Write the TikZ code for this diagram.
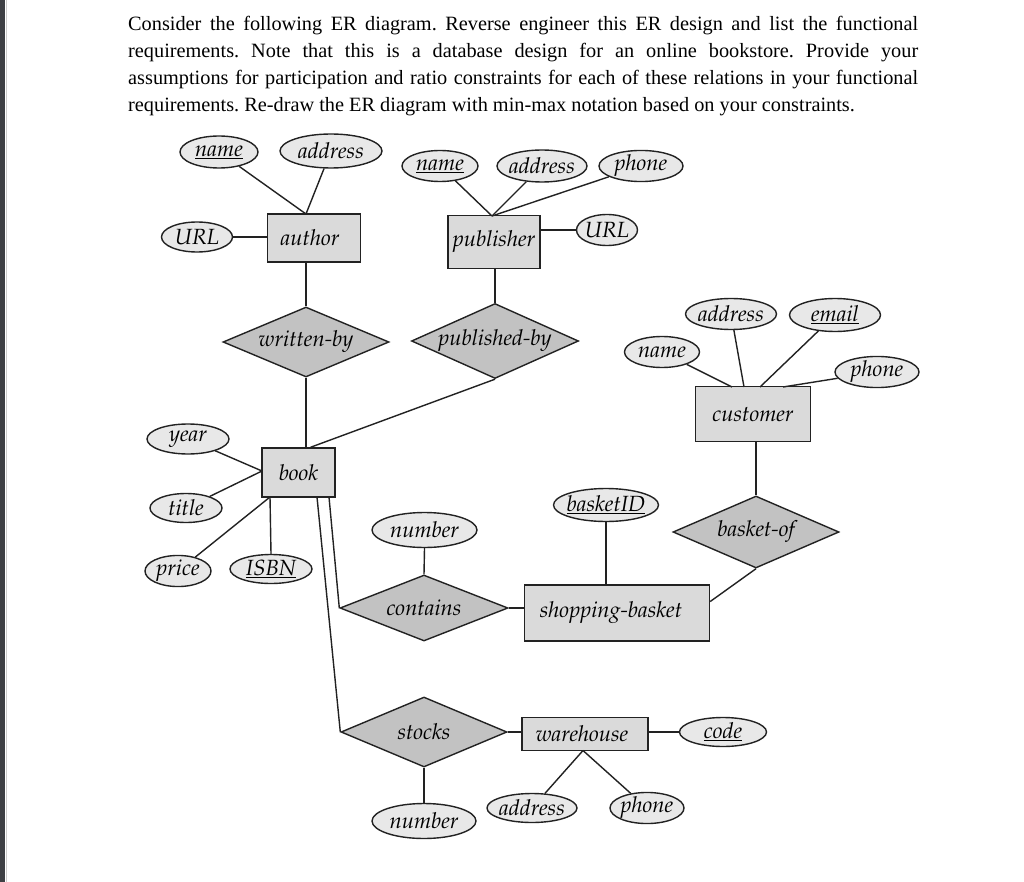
\documentclass[tikz,border=0pt]{standalone}
\usepackage[T1,TU]{fontenc}
\usepackage{fontspec}
\setmainfont{Liberation Serif}
\usetikzlibrary{shapes.geometric,calc}
\definecolor{attrfill}{HTML}{E8E8E8}
\definecolor{entfill}{HTML}{DADADA}
\definecolor{relfill}{HTML}{C2C2C2}
\definecolor{barcol}{HTML}{3E4044}
\definecolor{inkc}{HTML}{222222}
\newcommand\erfont{\fontencoding{T1}\fontfamily{ppl}\fontseries{m}\fontshape{it}\fontsize{22}{26}\selectfont}
\newcommand\zt[1]{\makebox[0pt]{#1}}
\newcommand\ul[1]{\underline{#1}}
\frenchspacing
\begin{document}
\begin{tikzpicture}[x=1pt,y=-1pt,
  attr/.style={ellipse,draw=inkc,fill=attrfill,line width=1.4pt,inner sep=0pt,font=\erfont},
  ent/.style={rectangle,draw=inkc,fill=entfill,line width=1.4pt,inner sep=0pt,font=\erfont},
  rel/.style={diamond,draw=inkc,fill=relfill,line width=1.4pt,inner sep=0pt,font=\erfont},
  conn/.style={draw=inkc,line width=1.4pt},
  qtext/.style={anchor=base west,inner sep=0pt,font=\fontsize{20.3}{27}\selectfont}]
\fill[white] (0,0) rectangle (1024,882);
\path[use as bounding box] (0,0) rectangle (1024,882);
\fill[barcol] (0,0) rectangle (5,882);
\draw[gray!40,line width=1pt] (6.5,0) -- (6.5,882);

% question text
\node[qtext] (q1) at (128,31) {\makebox[790pt][s]{Consider the following ER diagram. Reverse engineer this ER design and list the functional}};
\node[qtext] (q2) at (128,58) {\makebox[790pt][s]{requirements. Note that this is a database design for an online bookstore. Provide your}};
\node[qtext] (q3) at (128,85) {\makebox[790pt][s]{assumptions for participation and ratio constraints for each of these relations in your functional}};
\node[qtext] (q4) at (128,112) {requirements. Re-draw the ER diagram with min-max notation based on your constraints.};

% author
\node[attr,minimum width=78pt,minimum height=32pt] (aname) at (219,152) {\zt{\ul{name}}};
\node[attr,minimum width=102pt,minimum height=34pt] (aaddr) at (331,151) {\zt{address}};
\node[attr,minimum width=71pt,minimum height=30pt] (aurl) at (197,237) {\zt{URL}};
\node[ent,minimum width=93pt,minimum height=48pt] (author) at (314,238) {\zt{\kern-8pt author}};
\coordinate (atop) at (306,214);
\node[rel,minimum width=166pt,minimum height=70pt] (wb) at (306,342) {\zt{written-by}};

% publisher
\node[attr,minimum width=76pt,minimum height=31pt] (pname) at (440,166) {\zt{\ul{name}}};
\node[attr,minimum width=90pt,minimum height=32pt] (paddr) at (542,166) {\zt{address}};
\node[attr,minimum width=84pt,minimum height=31pt] (pphone) at (641,166) {\zt{phone}};
\node[ent,minimum width=92pt,minimum height=53pt] (publisher) at (494,242) {\zt{publisher}};
\node[attr,minimum width=61pt,minimum height=31pt] (purl) at (607,230) {\zt{URL}};
\coordinate (ptop) at (492,216);
\node[rel,minimum width=167pt,minimum height=75pt] (pb) at (495,341) {\zt{published-by}};

% customer
\node[attr,minimum width=75pt,minimum height=31pt] (cname) at (662,352) {\zt{name}};
\node[attr,minimum width=91pt,minimum height=31pt] (caddr) at (731,314) {\zt{address}};
\node[attr,minimum width=91pt,minimum height=33pt] (cemail) at (835,315) {\zt{\ul{email}}};
\node[attr,minimum width=84pt,minimum height=29pt] (cphone) at (877,372) {\zt{phone}};
\node[ent,minimum width=115pt,minimum height=55pt] (customer) at (753,414) {\zt{customer}};
\coordinate (ct1) at (732,387);
\coordinate (ct2) at (744,387);
\coordinate (ct3) at (760,387);
\coordinate (ct4) at (783,387);
\node[rel,minimum width=166pt,minimum height=72pt] (bo) at (756,532) {\zt{basket-of}};

% book
\node[ent,minimum width=73pt,minimum height=49pt] (book) at (298.5,472.5) {\zt{book}};
\node[attr,minimum width=82pt,minimum height=30pt] (year) at (188,439) {\zt{year}};
\node[attr,minimum width=72pt,minimum height=29pt] (title) at (186,508) {\zt{title}};
\node[attr,minimum width=66pt,minimum height=30pt] (price) at (178,571) {\zt{price}};
\node[attr,minimum width=82pt,minimum height=29pt] (isbn) at (271,569) {\zt{\ul{ISBN}}};
\coordinate (bleft) at (262,471);
\coordinate (bbot) at (270,497);
\coordinate (bcon) at (329,497);
\coordinate (bsto) at (317,497);

% contains / shopping basket
\node[attr,minimum width=105pt,minimum height=35pt] (num1) at (424.5,530) {\zt{number}};
\node[rel,minimum width=168pt,minimum height=66pt] (contains) at (424,608) {\zt{contains}};
\node[ent,minimum width=185pt,minimum height=56pt] (sbasket) at (617,613) {\zt{\kern-12pt shopping-basket}};
\node[attr,minimum width=105pt,minimum height=33pt] (bid) at (606,505) {\zt{\ul{basketID}}};
\coordinate (sbr) at ($(sbasket.north east)!0.3!(sbasket.south east)$);

% stocks / warehouse
\node[rel,minimum width=166pt,minimum height=70pt] (stocks) at (424,732) {\zt{stocks}};
\node[ent,minimum width=126pt,minimum height=33pt] (wh) at (585,734) {\zt{\kern-6pt warehouse}};
\node[attr,minimum width=87pt,minimum height=29pt] (code) at (723,732) {\zt{\ul{code}}};
\node[attr,minimum width=104pt,minimum height=35pt] (num2) at (424,821) {\zt{number}};
\node[attr,minimum width=90pt,minimum height=29pt] (waddr) at (532,808) {\zt{address}};
\node[attr,minimum width=74pt,minimum height=28pt] (wphone) at (647,808) {\zt{phone}};
\coordinate (wbot) at (583,750.5);

% connectors
\path[conn] (aname) -- (atop);
\path[conn] (aaddr) -- (atop);
\path[conn] (aurl) -- (aurl -| author.west);
\path[conn] (wb.north) -- (wb.north |- author.south);
\path[conn] (wb.south) -- (wb.south |- book.north);
\path[conn] (pname) -- (ptop);
\path[conn] (paddr) -- (ptop);
\path[conn] (pphone) -- (ptop);
\path[conn] (purl) -- (purl -| publisher.east);
\path[conn] (pb.north) -- (pb.north |- publisher.south);
\path[conn] (pb.south) -- ($(book.north)+(12,0)$);
\path[conn] (cname) -- (ct1);
\path[conn] (caddr) -- (ct2);
\path[conn] (cemail) -- (ct3);
\path[conn] (cphone) -- (ct4);
\path[conn] (bo.north) -- (bo.north |- customer.south);
\path[conn] (bo.south) -- (sbr);
\path[conn] (year) -- (bleft);
\path[conn] (title) -- (bleft);
\path[conn] (price) -- (bbot);
\path[conn] (isbn.north) -- (bbot);
\path[conn] (bcon) -- (contains.west);
\path[conn] (bsto) -- (stocks.west);
\path[conn] (num1.south) -- (contains.north);
\path[conn] (contains.east) -- (contains.east -| sbasket.west);
\path[conn] (bid.south) -- (bid.south |- sbasket.north);
\path[conn] (stocks.east) -- (stocks.east -| wh.west);
\path[conn] (code.west) -- (code.west -| wh.east);
\path[conn] (stocks.south) -- (num2.north);
\path[conn] (waddr) -- (wbot);
\path[conn] (wphone) -- (wbot);
\end{tikzpicture}
\end{document}
